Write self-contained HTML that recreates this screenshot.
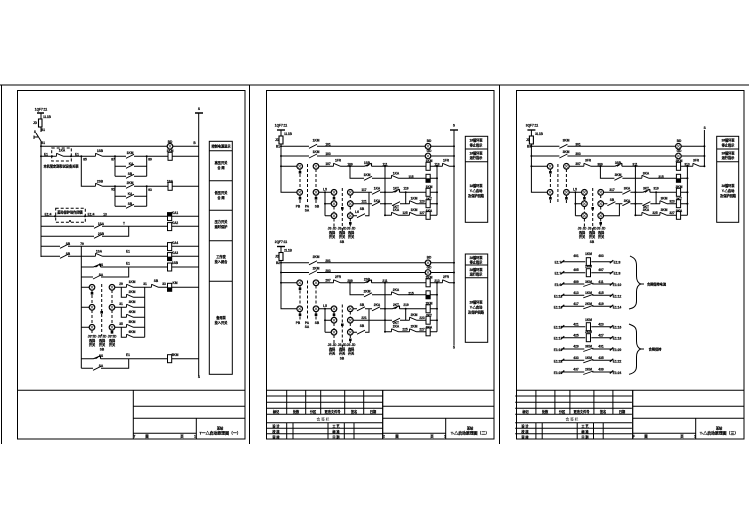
<!DOCTYPE html>
<html><head><meta charset="utf-8"><style>
html,body{margin:0;padding:0;background:#fff;width:749px;height:530px;overflow:hidden}
svg{display:block}
.l{fill:none;stroke:#000;stroke-width:1}
.t{stroke-width:1.4}
.d{stroke-dasharray:3 2}
text{font-family:"Liberation Sans","Noto Sans CJK SC",sans-serif;font-size:3.2px;font-weight:700;text-anchor:middle;fill:#000;stroke:#000;stroke-width:.2}
.b{font-size:3.9px}
.s{font-size:3.6px;font-weight:400;stroke-width:.05}
</style></head><body>
<svg width="749" height="530" viewBox="0 0 749 530" xmlns="http://www.w3.org/2000/svg">
<defs>
<g id="lp"><circle r="2.8" fill="#fff" stroke="#000" stroke-width="1.2"/><path d="M-2-2L2 2M2-2L-2 2" stroke="#555" stroke-width=".7"/></g>
<rect id="co" x="-2" y="-4" width="4.2" height="8" fill="#fff" stroke="#000" stroke-width="1"/>
<g id="cd"><rect x="-2" y="-4" width="4.2" height="8" fill="#fff" stroke="#000"/><rect x="-2" y="0" width="4.2" height="4" fill="#000"/></g>
<g id="ct"><rect x="-2" y="-4" width="4.2" height="8" fill="#fff" stroke="#000"/><rect x="-2" y="-4" width="4.2" height="4" fill="#000"/></g>
<g id="no"><rect x="-4" y="-1" width="8" height="2" fill="#fff"/><path d="M-4 2L4-2" stroke="#000" fill="none" stroke-width=".9"/></g>
<g id="nc"><rect x="-3.500" y="-1" width="7" height="2" fill="#fff"/><path d="M-3.500-3L3.500 0M-3.500-3V0" stroke="#000" fill="none" stroke-width=".9"/></g>
<g id="ni"><rect x="-3.500" y="-1" width="7" height="2" fill="#fff"/><path d="M3.500-3L-3.500 0M3.500-3V0M-1.500 0L1-1.500" stroke="#000" fill="none" stroke-width="1.1"/></g>
<circle id="n" r="1" fill="#000"/>
<g id="tb">
<path class="l" d="M133.300 390.300V439M133.300 406.300H245M133.300 418.300H245M196.300 418.300V439M133.300 433.300H196.300"/>
</g>
<g id="tl">
<path class="l" d="M266 396H382.700M266 402.300H382.700M266 408.300H382.700M266 414.300H382.700M266 422.700H382.700M266 428.300H382.700M266 433.700H382.700M286.700 390.300V414.300M305.700 390.300V414.300M320.700 390.300V414.300M344.700 390.300V414.300M363.700 390.300V414.300M286.700 422.700V439M293 422.700V439M328 422.700V439M344.300 422.700V439M354 422.700V439"/>
</g>
<g id="ctl">
<path class="l t" d="M277 130H285"/>
<path class="l" d="M281 130V192.300H297M281 146.300H454M281 156H454M281 166.300H297M316 166.300H454M350 166.300V178.300H437M385 166.300V215.300M437 166.300V215.300M385 192.300H437M405.700 192.300V203.700M385 203.700H437M385 215.300H437M313 192.300H325M325 192.300V215.700M325 192.300H331M325 203.700H331M325 215.700H331"/>
<path class="l d" d="M300 169V189M307.500 164V203M316 169V189M300 195V203M316 195V203M334 195V201M334 206.500V213M334 218.500V228M342.300 188V232M350.300 195V201M350.300 206.500V213M350.300 218.500V228"/>
<rect x="298.700" y="171" width="2.600" height="2.600"/><rect x="298.700" y="197" width="2.600" height="2.600"/><rect x="314.700" y="197" width="2.600" height="2.600"/><rect x="332.700" y="197" width="2.600" height="2.600"/><rect x="341" y="207" width="2.600" height="2.600"/><rect x="349" y="222" width="2.600" height="2.600"/>
<rect x="279" y="136" width="4" height="8" fill="#fff" stroke="#000" stroke-width="1.100"/>
<use href="#lp" x="428" y="146.300"/><use href="#lp" x="428" y="156"/>
<use href="#lp" x="299.700" y="166.300"/><use href="#lp" x="316" y="166.300"/><use href="#lp" x="299.700" y="192.300"/><use href="#lp" x="316" y="192.300"/>
<use href="#lp" x="334" y="192.300"/><use href="#lp" x="334" y="203.700"/><use href="#lp" x="334" y="215.700"/>
<use href="#lp" x="350.300" y="192.300"/><use href="#lp" x="350.300" y="203.700"/><use href="#lp" x="350.300" y="215.700"/>
<use href="#co" x="428" y="166.300"/><use href="#cd" x="428" y="178.300"/><use href="#co" x="428" y="192.300"/><use href="#co" x="428" y="203.700"/><use href="#co" x="428" y="215.300"/>
<use href="#no" x="313" y="146.300"/><use href="#no" x="313" y="156"/><use href="#nc" x="337" y="166.300"/><use href="#ni" x="368" y="166.300"/><use href="#no" x="368" y="178.300"/><use href="#nc" x="395" y="178.300"/><use href="#nc" x="446" y="166.300"/>
<use href="#ni" x="396" y="192.300"/><use href="#nc" x="413" y="203.700"/><use href="#no" x="396" y="203.700"/><use href="#nc" x="395" y="215.300"/><use href="#nc" x="413" y="215.300"/>
<use href="#n" x="281" y="146.300"/><use href="#n" x="281" y="156"/><use href="#n" x="281" y="166.300"/><use href="#n" x="454" y="146.300"/><use href="#n" x="454" y="156"/><use href="#n" x="454" y="166.300"/><use href="#n" x="350" y="166.300"/><use href="#n" x="385" y="166.300"/><use href="#n" x="437" y="166.300"/><use href="#n" x="385" y="192.300"/><use href="#n" x="385" y="203.700"/><use href="#n" x="385" y="215.300"/><use href="#n" x="437" y="178.300"/><use href="#n" x="437" y="192.300"/><use href="#n" x="437" y="203.700"/><use href="#n" x="405.700" y="192.300"/><use href="#n" x="325" y="192.300"/><use href="#n" x="325" y="203.700"/>
</g>
<g id="r2">
<path class="l" d="M-26 0H-3M3 0H24"/>
<path d="M-27.500 1.500L-24-1.500" stroke="#000" stroke-width="1.200"/><path d="M21.500 1.500L25-1.500" stroke="#000" stroke-width="1.200"/>
</g>
<g id="rc"><use href="#r2"/><rect x="-4" y="-1" width="8" height="2" fill="#fff"/><path d="M-5 2.500L5-1" stroke="#000" stroke-width=".9"/></g>
</defs>

<!-- outer -->
<path class="l" d="M0 85H749M1.500 85V444M249.500 85V444M499.500 85V444"/>
<rect class="l" x="17.500" y="90.500" width="227.500" height="348.500"/>
<rect class="l" x="266.500" y="90.500" width="227.500" height="348.500"/>
<rect class="l" x="516.500" y="90.500" width="227.500" height="348.500"/>
<path class="l" d="M17 390.300H245M266 390.300H494M516 390.300H744"/>

<!-- Panel 1 -->
<use href="#tb"/>
<path class="l t" d="M37 113H44M195 113H203"/>
<path class="l" d="M41 113V132M41 141V257M198.700 113V376M41 146.300H198.700M41 156.300H198.700M81.300 156.300V186.300H198.700M115 156.300V176.300M146.700 156.300V176.300M115 166.300H146.700M115 176.300H146.700M115 186.300V206.300M146.700 186.300V206.300M115 196.300H146.700M115 206.300H146.700M41 216.300H198.700M41 226.300H198.700M41 236.300H128.700V226.300M41 246.300H198.700M41 256.300H198.700M81.300 246.300V368.300M81.300 267H198.700M81.300 277H128.700V267M81.300 287.300H89M81.300 307.300H89M81.300 327.300H89M112 287.300H155M121.300 287.300V297.300H144.700M144.700 287.300V337.300M112 307.300H144.700M121.300 307.300V317.300H144.700M112 327.300H144.700M121.300 327.300V337.300H144.700M155 287.300H198.700M81.300 358.700H198.700M81.300 368.300H128.700V358.700"/>
<path d="M41 141L36 133M34 135.500V139M34 137H38" stroke="#000" fill="none" stroke-width="1"/>
<rect x="38.500" y="119" width="3.500" height="8" fill="#fff" stroke="#000" stroke-width="1.100"/>
<use href="#lp" x="170" y="146.300"/>
<use href="#co" x="170" y="156.300"/><use href="#co" x="170" y="186.300"/><use href="#ct" x="169.500" y="216.600"/><use href="#co" x="169.500" y="226.600"/><use href="#co" x="169.500" y="246.600"/><use href="#cd" x="169.500" y="256.600"/><use href="#co" x="169.500" y="267"/><use href="#cd" x="169.500" y="287.300"/><use href="#co" x="169.500" y="358.700"/>
<rect class="l d" x="51.700" y="148" width="19.600" height="13" stroke-width=".9" fill="none"/>
<rect class="l d" x="55.700" y="208.300" width="29.600" height="14" stroke-width=".9" fill="none"/>
<use href="#nc" x="60" y="156.300"/><use href="#nc" x="99" y="156.300"/><use href="#nc" x="99" y="186.300"/>
<use href="#no" x="130" y="156.300"/><use href="#no" x="130" y="166.300"/><use href="#no" x="130" y="176.300"/><use href="#no" x="130" y="186.300"/><use href="#no" x="130" y="196.300"/><use href="#no" x="130" y="206.300"/>
<use href="#no" x="98" y="226.300"/><use href="#no" x="98" y="236.300"/><use href="#no" x="64" y="246.300"/><use href="#no" x="64" y="256.300"/><use href="#nc" x="99" y="256.300"/><use href="#ni" x="97" y="267"/><use href="#no" x="97" y="277"/><use href="#ni" x="97" y="358.700"/><use href="#no" x="97" y="368.300"/>
<use href="#nc" x="130" y="287.300"/><use href="#nc" x="130" y="297.300"/><use href="#nc" x="130" y="307.300"/><use href="#nc" x="130" y="317.300"/><use href="#nc" x="130" y="327.300"/><use href="#nc" x="130" y="337.300"/><use href="#nc" x="155" y="287.300"/>
<use href="#lp" x="92" y="287.300"/><use href="#lp" x="92" y="307.300"/><use href="#lp" x="92" y="327.300"/><use href="#lp" x="112" y="287.300"/><use href="#lp" x="112" y="307.300"/><use href="#lp" x="112" y="327.300"/>
<path class="l d" d="M92 290V304M92 310V324M112 290V304M112 310V324M92 330V336M112 330V336M101.700 284V336"/>
<rect x="90.700" y="292" width="2.600" height="2.600"/><rect x="100.400" y="311" width="2.600" height="2.600"/><rect x="110.700" y="331" width="2.600" height="2.600"/>
<use href="#n" x="41" y="146.300"/><use href="#n" x="41" y="156.300"/><use href="#n" x="52" y="156.300"/><use href="#n" x="71" y="156.300"/><use href="#n" x="81.300" y="156.300"/><use href="#n" x="115" y="156.300"/><use href="#n" x="146.700" y="156.300"/><use href="#n" x="115" y="186.300"/><use href="#n" x="146.700" y="186.300"/><use href="#n" x="55" y="216.300"/><use href="#n" x="85" y="216.300"/><use href="#n" x="70" y="221"/>
<!-- legend 1 -->
<rect class="l" x="209.300" y="141.300" width="23" height="233"/>
<path class="l" d="M209.300 150.700H232.300M209.300 180.700H232.300M209.300 210.300H232.300M209.300 240.700H232.300M209.300 281.300H232.300"/>
<text x="221" y="147.500">控制电源显示</text>
<text x="221" y="164">高压开关</text><text x="221" y="169">合 闸</text>
<text x="221" y="194">低压开关</text><text x="221" y="199">合 闸</text>
<text x="221" y="223">压力开关</text><text x="221" y="228">延时保护</text>
<text x="221" y="258">工作变</text><text x="221" y="263">投入闭合</text>
<text x="221" y="319">备用泵</text><text x="221" y="324">投入开关</text>
<!-- labels 1 -->
<text x="41" y="110.500">1QF7:11</text><text x="47" y="118">1L1B</text><text x="35" y="124">JD</text><text x="43" y="131">B1</text><text x="35" y="133">S</text><text x="43" y="144">B1</text>
<text x="199" y="110">S</text><text x="170" y="143">BD</text><text x="194.500" y="144">B</text><text x="170" y="152">1KM</text><text x="46" y="155.500">E1</text><text x="77" y="155.500">E1</text><text x="62" y="151.500">1KA</text><text x="61" y="167.500">本机管定期和试设备关联</text><text x="85" y="160.500">85</text><text x="100" y="152">1SB</text><text x="113" y="160.500">87</text><text x="130" y="154">1KM</text><text x="131" y="165">KA</text><text x="130" y="175">SB</text><text x="150" y="160.500">89</text>
<text x="100" y="182.500">2SB</text><text x="113" y="190.500">91</text><text x="130" y="184">2KM</text><text x="130" y="195">KA</text><text x="130" y="205">SB</text><text x="150" y="191">93</text><text x="170" y="182.500">1SA</text>
<text x="48" y="215.500">E1:4</text><text x="70" y="213.500">差动保护动作闭锁</text><text x="91" y="215.500">E1:4</text><text x="105" y="215.500">13</text><text x="175" y="214">KA1</text><text x="175" y="224">KA2</text><text x="101" y="225">1SA</text><text x="124" y="224.500">T</text><text x="101" y="235">2SB</text>
<text x="82" y="245">79</text><text x="68" y="245">SB</text><text x="68" y="255">SB</text><text x="99" y="252.500">1SA</text><text x="128" y="252.500">E1</text><text x="175" y="244">KA4</text><text x="175" y="254">KA3</text>
<text x="101" y="266">SS</text><text x="128" y="264.500">E1</text><text x="175" y="264">1SB</text><text x="101" y="276">SA</text>
<text x="121" y="285">29</text><text x="132" y="283">1KM</text><text x="145" y="285">31</text><text x="156" y="282">SB</text><text x="164" y="285">33</text><text x="175" y="284">KM</text>
<text x="132" y="293">2KM</text><text x="121" y="305">31</text><text x="132" y="303">3KM</text><text x="132" y="313">4KM</text><text x="121" y="325">35</text><text x="132" y="323">5KM</text><text x="132" y="333">6KM</text>
<text x="92" y="337.500">JS JD</text><text x="92" y="342">选择</text><text x="92" y="346">开关</text><text x="102" y="337.500">JS JD</text><text x="102" y="342">选择</text><text x="102" y="346">开关</text><text x="102" y="350.500">SB</text><text x="112" y="337.500">JS JD</text><text x="112" y="342">选择</text><text x="112" y="346">开关</text>
<text x="101" y="357">SS</text><text x="128" y="356">E1</text><text x="175" y="356">5KM</text><text x="101" y="367">SA</text><text x="199" y="378">S</text>
<!-- title 1 -->
<text x="220" y="429.500">某站</text><text class="b" x="220" y="434.500">T一△启动原理图（一）</text>
<text x="134.500" y="437.500">T</text><text x="147" y="437.500">图</text><text x="182" y="437.500">页</text><text x="195" y="437.500">1</text>

<!-- Panel 2 -->
<use href="#tl"/>
<use href="#tb" x="249.400"/>
<path class="l" d="M382.700 390.300V439"/>
<path class="l t" d="M450 130H458"/>
<path class="l" d="M454 130V345.700"/>
<use href="#ctl"/>
<path class="l" d="M353 192.300H385M353 203.700H385M353 215.700H369V192.300"/>
<use href="#no" x="376" y="192.300"/><use href="#no" x="376" y="203.700"/><use href="#no" x="361" y="215.700"/>
<rect class="l" x="465.300" y="136.300" width="22.400" height="86"/>
<path class="l" d="M465.300 149H487.700M465.300 161.700H487.700"/>
<text x="476" y="141.500">1#循环泵</text><text x="476" y="146.500">停止指示</text><text x="476" y="154.500">1#循环泵</text><text x="476" y="159">运行指示</text><text x="476" y="187">1#循环泵</text><text x="476" y="192">Y-△启动</text><text x="476" y="197">及保护回路</text>
<text x="281" y="126.500">1QF7:11</text><text x="288" y="135">1L1B</text><text x="277" y="141">JD</text><text x="278" y="147.500">B1</text><text x="454" y="126.500">S</text>
<text x="316" y="141.500">1KM</text><text x="328" y="145.500">101</text><text x="429" y="142">BD</text><text x="316" y="153">1KM</text><text x="328" y="155">103</text><text x="429" y="152">GD</text>
<text x="328" y="165">107</text><text x="338" y="161.500">1FR</text><text x="350" y="165.500">109</text><text x="367" y="164">1SB</text><text x="385" y="165.500">111</text><text x="429" y="162">1KM</text><text x="437" y="165.500">113</text><text x="446" y="161.500">1FR</text>
<text x="367" y="176">1KM</text><text x="396" y="174.500">1KA</text><text x="411" y="178">115</text>
<text x="325" y="190.500">L5</text><text x="298" y="207.500">PB</text><text x="307" y="207.500">PA</text><text x="307" y="211.500">SA</text><text x="317" y="207.500">SB</text>
<text x="364" y="191">117</text><text x="364" y="202.500">121</text><text x="377" y="189.500">1KA</text><text x="377" y="202">1KA</text><text x="396" y="189.500">1KT</text><text x="406" y="189.500">119</text><text x="429" y="188">1KM</text>
<text x="414" y="199.500">1KM</text><text x="422" y="202.500">123</text><text x="396" y="208">1KT</text><text x="429" y="200">1KT</text><text x="396" y="211">1KA</text><text x="405" y="214">125</text><text x="414" y="211">1KM</text><text x="422" y="214">127</text><text x="429" y="212">1KA</text>
<text x="357" y="213">L6</text><text x="362" y="210">SB</text>
<text x="332" y="229.500">JS JD</text><text x="332" y="234">选择</text><text x="332" y="238">开关</text><text x="342" y="229.500">JS JD</text><text x="342" y="234">选择</text><text x="342" y="238">开关</text><text x="342" y="243">SB</text><text x="351" y="229.500">JS JD</text><text x="351" y="234">选择</text><text x="351" y="238">开关</text>
<!-- lower -->
<g transform="translate(0,116.500)">
<use href="#ctl"/>
<path class="l" d="M353 192.300H385M353 203.700H385M353 215.700H369V192.300"/>
<use href="#no" x="361" y="192.300"/><use href="#no" x="376" y="192.300"/><use href="#no" x="361" y="215.700"/>
</g>
<rect class="l" x="465.300" y="254" width="22.400" height="88.300"/>
<path class="l" d="M465.300 265H487.700M465.300 277.700H487.700"/>
<text x="476" y="259">2#循环泵</text><text x="476" y="263.500">停止指示</text><text x="476" y="271">2#循环泵</text><text x="476" y="275.700">运行指示</text><text x="476" y="303.500">2#循环泵</text><text x="476" y="308.500">Y-△启动</text><text x="476" y="313.500">及保护回路</text>
<text x="281" y="243">2QF7:11</text><text x="288" y="251.500">2L1B</text><text x="277" y="257.500">JD</text><text x="278" y="264">B2</text><text x="454" y="348.500">S</text>
<text x="316" y="258">2KM</text><text x="328" y="262">201</text><text x="429" y="258.500">BD</text><text x="316" y="269.500">2KM</text><text x="328" y="272">203</text><text x="429" y="268.500">GD</text>
<text x="328" y="281.500">207</text><text x="338" y="278">2FR</text><text x="350" y="282">209</text><text x="367" y="280.500">2SB</text><text x="385" y="282">211</text><text x="429" y="278.500">2KM</text><text x="437" y="282">213</text><text x="446" y="278">2FR</text>
<text x="367" y="292.500">2KM</text><text x="396" y="291">2KA</text><text x="411" y="294.500">215</text>
<text x="298" y="324">PB</text><text x="307" y="324">PA</text><text x="307" y="328">SA</text><text x="317" y="324">SB</text><text x="325" y="307">L5</text>
<text x="362" y="306">SB</text><text x="377" y="306">2KA</text><text x="396" y="306">2KT</text><text x="406" y="306">219</text><text x="429" y="304.500">2KM</text><text x="364" y="319">221</text><text x="414" y="316">2KM</text><text x="422" y="319">223</text><text x="396" y="324">2KT</text><text x="429" y="316.500">2KT</text><text x="396" y="327.500">2KA</text><text x="405" y="330.500">225</text><text x="414" y="327.500">2KM</text><text x="422" y="330.500">227</text><text x="429" y="328.500">2KA</text><text x="362" y="327">SB</text>
<text x="332" y="346">JS JD</text><text x="332" y="350.500">选择</text><text x="332" y="354.500">开关</text><text x="342" y="346">JS JD</text><text x="342" y="350.500">选择</text><text x="342" y="354.500">开关</text><text x="342" y="359.500">SB</text><text x="351" y="346">JS JD</text><text x="351" y="350.500">选择</text><text x="351" y="354.500">开关</text>
<!-- table labels 2 -->
<text x="276" y="413">标记</text><text x="296" y="413">处数</text><text x="313" y="413">分区</text><text x="332.500" y="413">更改文件号</text><text x="354" y="413">签名</text><text x="373" y="413">日期</text>
<text class="s" x="323" y="420.500">会 签 栏</text>
<text x="276" y="427.500">设 计</text><text x="276" y="433">校 核</text><text x="276" y="438.500">审 核</text><text x="336" y="427.500">工 艺</text><text x="336" y="433">标 准</text><text x="336" y="438.500">日 期</text>
<text x="470" y="429.500">某站</text><text class="b" x="470" y="434.500">T-△启动原理图（二）</text>
<text x="384" y="437.500">2</text><text x="397" y="437.500">图</text><text x="432" y="437.500">页</text><text x="445" y="437.500">1</text>

<!-- Panel 3 -->
<use href="#tl" x="249.200"/>
<use href="#tb" x="499.400"/>
<path class="l" d="M632.700 390.300V439"/>
<path class="l" d="M704.400 130V166.300"/>
<g transform="translate(250.400,0)">
<use href="#ctl"/>
<path class="l" d="M353 192.300H385M353 203.700H385M353 215.700H369V203.700"/>
<use href="#no" x="376" y="192.300"/><use href="#no" x="376" y="203.700"/><use href="#no" x="361" y="203.700"/>
</g>
<rect class="l" x="716.700" y="136.300" width="22" height="86"/>
<path class="l" d="M716.700 149H738.700M716.700 161.700H738.700"/>
<text x="728" y="141.500">3#循环泵</text><text x="728" y="146.500">停止指示</text><text x="728" y="154.500">3#循环泵</text><text x="728" y="159">运行指示</text><text x="728" y="187">3#循环泵</text><text x="728" y="192">Y-△启动</text><text x="728" y="197">及保护回路</text>
<text x="532" y="126.500">3QF7:11</text><text x="539" y="135">3L1B</text><text x="528" y="141">JD</text><text x="529" y="147.500">B3</text><text x="704.700" y="129">S</text>
<text x="566" y="141.500">3KM</text><text x="578" y="145.500">301</text><text x="679" y="142">BD</text><text x="566" y="153">3KM</text><text x="578" y="155">303</text><text x="679" y="152">GD</text>
<text x="578" y="165">307</text><text x="588" y="161.500">3FR</text><text x="600" y="165.500">309</text><text x="618" y="164">3SB</text><text x="635" y="165.500">311</text><text x="679" y="162">3KM</text><text x="687" y="165.500">313</text><text x="696" y="161.500">3FR</text>
<text x="618" y="176">3KM</text><text x="646" y="174.500">3KA</text><text x="661" y="178">315</text>
<text x="575" y="190.500">L5</text><text x="612" y="191">317</text><text x="627" y="189.500">3KA</text><text x="646" y="189.500">3KT</text><text x="656" y="189.500">319</text><text x="679" y="188">3KM</text><text x="627" y="202">3KA</text><text x="664" y="199.500">3KM</text><text x="672" y="202.500">323</text><text x="646" y="208">3KT</text><text x="679" y="200">3KT</text><text x="646" y="211">3KA</text><text x="655" y="214">325</text><text x="664" y="211">3KM</text><text x="672" y="214">327</text><text x="679" y="212">3KA</text><text x="612" y="201">SB</text>
<text x="582" y="229.500">JS JD</text><text x="582" y="234">选择</text><text x="582" y="238">开关</text><text x="592" y="229.500">JS JD</text><text x="592" y="234">选择</text><text x="592" y="238">开关</text><text x="592" y="243">SB</text><text x="601" y="229.500">JS JD</text><text x="601" y="234">选择</text><text x="601" y="238">开关</text>

<!-- relay rows panel 3 -->
<g transform="translate(588.300,0)">
<use href="#r2" y="261.700"/><use href="#co" y="261.700"/>
<use href="#r2" y="272.700"/><use href="#co" y="272.700"/>
<use href="#rc" y="284"/><use href="#rc" y="295.300"/><use href="#rc" y="306.300"/>
<use href="#r2" y="326.700"/><use href="#co" y="326.700"/>
<use href="#r2" y="337.700"/><use href="#co" y="337.700"/>
<use href="#rc" y="349"/><use href="#rc" y="360.300"/><use href="#rc" y="372"/>
</g>
<path class="l" d="M630 256C634 258 636.500 259 636.500 266V276C636.500 281 638 283 640.700 284C638 285 636.500 287 636.500 292V301C636.500 306 634 308 629 309"/>
<path class="l" d="M629 324C634 326 636.500 327 636.500 333V341C636.500 346 638 348 640.700 349C638 350 636.500 352 636.500 357V366C636.500 371 634 373 629 374.300"/>
<path class="l" d="M640.700 284H644M640.700 349H644"/>
<text x="656.500" y="285.500">合闸保持电流</text><text x="655" y="350.500">合闸保持</text>
<text x="558" y="263.500">E1:7</text><text x="617" y="263.500">E1:8</text><text x="558" y="274.500">E1:7</text><text x="617" y="274.500">E1:8</text><text x="558" y="286">E1:9</text><text x="617" y="286">E1:10</text><text x="558" y="297.500">E1:11</text><text x="617" y="297.500">E1:12</text><text x="558" y="308.500">E1:13</text><text x="617" y="308.500">E1:14</text>
<text x="558" y="328.500">E1:15</text><text x="617" y="328.500">E1:16</text><text x="558" y="339.500">E1:17</text><text x="617" y="339.500">E1:18</text><text x="558" y="351">E1:19</text><text x="617" y="351">E1:20</text><text x="558" y="362.500">E1:21</text><text x="617" y="362.500">E1:22</text><text x="558" y="374">E1:23</text><text x="617" y="374">E1:24</text>
<text x="576" y="257">401</text><text x="601" y="257">403</text><text x="588.500" y="255">1KM</text><text x="576" y="271">405</text><text x="601" y="271">407</text><text x="588.500" y="267.500">2KM</text><text x="576" y="283">409</text><text x="601" y="283">411</text><text x="588.500" y="283">3KM</text><text x="576" y="294">413</text><text x="601" y="294">415</text><text x="588.500" y="294">1KM</text><text x="576" y="305">417</text><text x="601" y="305">419</text><text x="588.500" y="305">2KM</text>
<text x="576" y="325.500">421</text><text x="601" y="325.500">423</text><text x="588.500" y="321">1KM</text><text x="576" y="336.500">425</text><text x="601" y="336.500">427</text><text x="588.500" y="333">2KM</text><text x="576" y="347.500">429</text><text x="601" y="347.500">431</text><text x="588.500" y="347.500">3KM</text><text x="576" y="359">433</text><text x="601" y="359">435</text><text x="588.500" y="359">1KM</text><text x="576" y="370.500">437</text><text x="601" y="370.500">439</text><text x="588.500" y="370.500">2KM</text>
<!-- table labels 3 -->
<text x="525.500" y="413">标记</text><text x="545" y="413">处数</text><text x="562" y="413">分区</text><text x="581.500" y="413">更改文件号</text><text x="603" y="413">签名</text><text x="622" y="413">日期</text>
<text class="s" x="572" y="420.500">会 签 栏</text>
<text x="525" y="427.500">设 计</text><text x="525" y="433">校 核</text><text x="525" y="438.500">审 核</text><text x="585" y="427.500">工 艺</text><text x="585" y="433">标 准</text><text x="585" y="438.500">日 期</text>
<text x="719" y="429.500">某站</text><text class="b" x="719" y="434.500">T-△启动原理图（三）</text>
<text x="634" y="437.500">F</text><text x="646" y="437.500">图</text><text x="682" y="437.500">页</text><text x="695" y="437.500">1</text>
</svg>
</body></html>
